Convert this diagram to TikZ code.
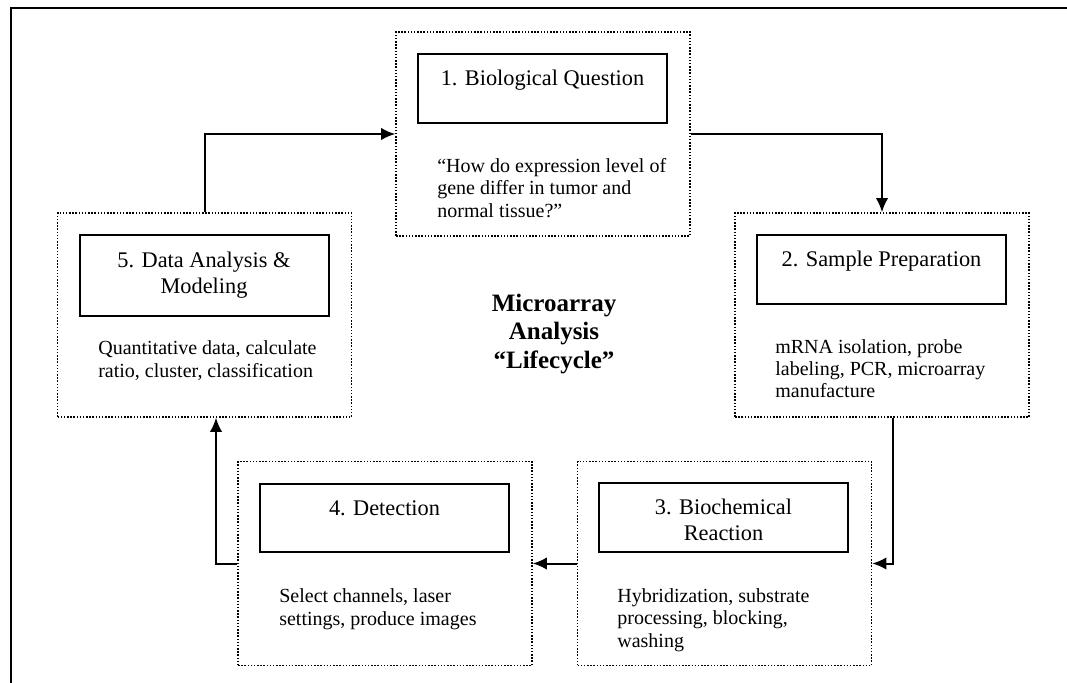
\documentclass[tikz,border=0pt]{standalone}
\usepackage{fontspec}
\setmainfont{Liberation Serif}
\usetikzlibrary{arrows.meta}

\begin{document}
\begin{tikzpicture}[x=0.6pt,y=-0.6pt,>={Latex[length=8.5pt,width=7.5pt]}]
        \tikzset{
            stage/.style= {
                draw,
                densely dotted,
                line width=0.9pt,
                shape=rectangle,
                minimum width=176.4pt,
                minimum height=122.4pt,
                inner sep=0pt
            },
            head/.style= {
                draw,
                solid,
                line width=1.2pt,
                align=center,
                anchor=base,
                minimum width=149.4pt,
                inner sep=0pt,
                text height=18.9pt,
                text depth=22.2pt,
                font=\fontsize{13.4}{15.6}\selectfont
            },
            note/.style= {
                align=left,
                anchor=base west,
                inner sep=0pt,
                font=\fontsize{12}{13.4}\selectfont
            },
            vh/.style={to path={|- (\tikztotarget)}},
            hv/.style={to path={-| (\tikztotarget)}}
        }
\useasboundingbox (0,0) rectangle (1067,683);
\draw[line width=1.2pt] (1067,8) -- (11,8) -- (11,683);

        \node [stage] (s1) at (543,134) {};
        \node [head] (q1) at (542.5,86)
            {1. Biological Question};
        \node [note] (n1) at (437,217)
            {“How do expression level of\\gene differ in tumor and\\normal tissue?”};

        \node [stage] (s2) at (882,315) {};
        \node [head] (q2) at (881.5,266.7)
            {2. Sample Preparation};
        \node [note] (n2) at (775,397.7)
            {mRNA isolation, probe\\labeling, PCR, microarray\\manufacture};

        \node [stage] (s3) at (724.5,563.5) {};
        \node [head, text height=34.2pt, text depth=7.2pt] (q3) at (723.5,540)
            {3. Biochemical\\Reaction};
        \node [note] (n3) at (617,647)
            {Hybridization, substrate\\processing, blocking,\\washing};

        \node [stage] (s4) at (385,563.5) {};
        \node [head] (q4) at (384.5,515)
            {4. Detection};
        \node [note] (n4) at (279,625)
            {Select channels, laser\\settings, produce images};

        \node [stage] (s5) at (204.5,315) {};
        \node [head, text height=34.8pt, text depth=13.8pt] (q5) at (204,293)
            {5. Data Analysis \&\\Modeling};
        \node [note] (n5) at (98,377)
            {Quantitative data, calculate\\ratio, cluster, classification};

        \node [align=center, anchor=base, font=\bfseries\fontsize{15}{17}\selectfont] (hub) at (554,368)
            {Microarray\\Analysis\\“Lifecycle”};
%% paths
\path[every edge/.style={draw,->,line width=1.2pt}]
    (s5.north) edge[vh] (s1.west)
    (s1.east) edge[hv] (s2.north)
    ([xshift=6.6pt]s2.south) edge[vh] (s3.east)
    (s3.west) edge (s4.east)
    (s4.west) edge[hv] ([xshift=6.9pt]s5.south)
;
\end{tikzpicture}
\end{document}
